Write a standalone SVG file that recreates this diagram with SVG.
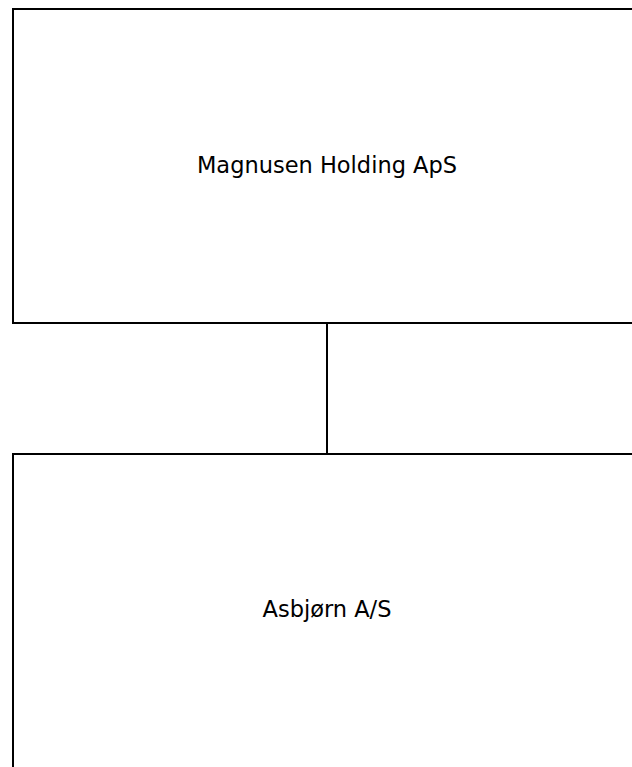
<svg xmlns="http://www.w3.org/2000/svg" width="632" height="767" viewBox="0 0 632 767">
  <style>
    .box { fill: #ffffff; stroke: #000000; stroke-width: 2; }
    .label { font-family: "DejaVu Sans", "Liberation Sans", sans-serif; font-size: 22.5px; fill: #000000; text-anchor: middle; }
    .link { stroke: #000000; stroke-width: 2; fill: none; }
  </style>
  <rect width="632" height="767" fill="#ffffff"/>
  <g id="connectors">
    <line class="link" x1="327" y1="323" x2="327" y2="454"/>
  </g>
  <g id="node-magnusen">
    <rect class="box" x="13" y="9" width="628" height="314"/>
    <text class="label" x="327" y="173">Magnusen Holding ApS</text>
  </g>
  <g id="node-asbjorn">
    <rect class="box" x="13" y="454" width="628" height="316"/>
    <text class="label" x="327" y="617">Asbjørn A/S</text>
  </g>
</svg>
